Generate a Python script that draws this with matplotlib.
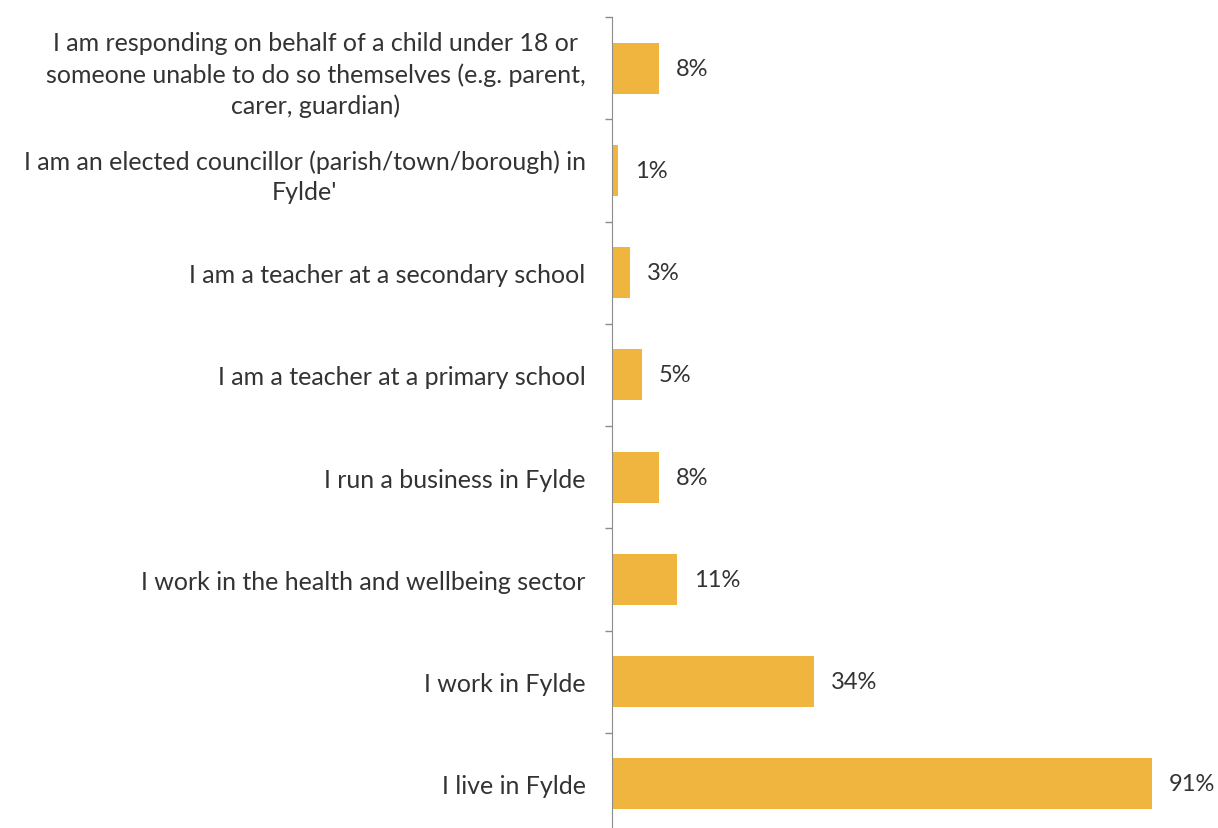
import matplotlib.pyplot as plt
import numpy as np

categories = [
    "I am responding on behalf of a child under 18 or\nsomeone unable to do so themselves (e.g. parent,\ncarer, guardian)",
    "I am an elected councillor (parish/town/borough) in\nFylde'",
    "I am a teacher at a secondary school",
    "I am a teacher at a primary school",
    "I run a business in Fylde",
    "I work in the health and wellbeing sector",
    "I work in Fylde",
    "I live in Fylde",
]
values = [8, 1, 3, 5, 8, 11, 34, 91]

plt.rcParams['font.family'] = ['Lato', 'DejaVu Sans']

fig = plt.figure(figsize=(12.18, 8.29), dpi=100)
ax = fig.add_axes([612 / 1218, 1 - 836 / 829, 593.4 / 1218, (836 - 18) / 829])

y = np.arange(len(categories))
ax.barh(y, values, height=0.5, color='#F0B53F')
ax.set_ylim(len(categories) - 0.5, -0.5)
ax.set_xlim(0, 100)

for yi, v in zip(y, values):
    ax.annotate(f"{v}%", (v, yi), xytext=(12, 0), textcoords='offset points',
                va='center', ha='left', fontsize=17, color='#333333')

ax.set_yticks(y)
ax.set_yticklabels(categories, fontsize=18, color='#333333', multialignment='center',
                   linespacing=1.4)
ax.tick_params(axis='y', which='major', length=0, pad=19)
ax.set_yticks(np.arange(-0.5, len(categories) + 0.5, 1), minor=True)
ax.tick_params(axis='y', which='minor', length=5, color='#8c8c8c', width=1)

ax.set_xticks([])
for s in ['top', 'right', 'bottom']:
    ax.spines[s].set_visible(False)
ax.spines['left'].set_color('#8c8c8c')

fig.savefig('out.png', dpi=100)
